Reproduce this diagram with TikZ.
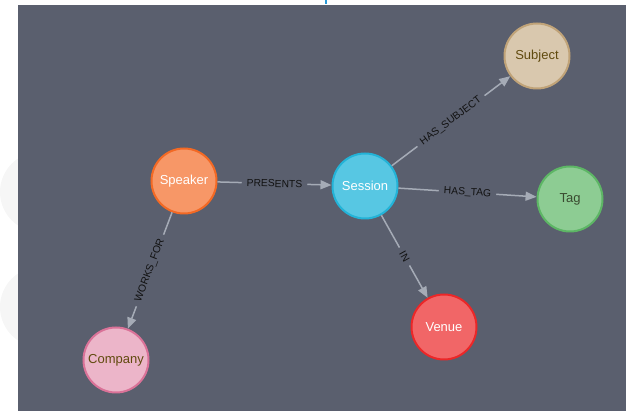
\documentclass[tikz,border=0pt]{standalone}
\usepackage{fontspec}
\setmainfont{Liberation Sans}
\usetikzlibrary{arrows.meta}

\definecolor{canvas}{RGB}{90,95,110}
\definecolor{edgegray}{HTML}{A5ABB6}
\definecolor{faint}{HTML}{F6F6F6}
\definecolor{speakerfill}{HTML}{F79767}
\definecolor{speakerline}{HTML}{F36924}
\definecolor{sessionfill}{HTML}{57C7E3}
\definecolor{sessionline}{HTML}{23B3D7}
\definecolor{subjectfill}{HTML}{D9C8AE}
\definecolor{subjectline}{HTML}{C0A378}
\definecolor{tagfill}{HTML}{8DCC93}
\definecolor{tagline}{HTML}{5DB665}
\definecolor{venuefill}{HTML}{F16667}
\definecolor{venueline}{HTML}{EB2728}
\definecolor{companyfill}{HTML}{ECB5C9}
\definecolor{companyline}{HTML}{DA7298}
\definecolor{browntext}{HTML}{604A0E}
\definecolor{greentext}{HTML}{3A4A30}
\definecolor{tickblue}{HTML}{2A9AD8}
\definecolor{labeltext}{HTML}{111111}

\tikzset{
  entity/.style={circle, line width=2pt, minimum size=65pt, inner sep=0pt,
    font=\fontsize{13}{15}\selectfont},
  rel/.style={draw=edgegray, line width=1.5pt,
    -{Triangle[length=11pt,width=9pt]}},
  rellabel/.style={midway, sloped, fill=canvas, inner xsep=5pt, inner ysep=1pt,
    text=labeltext, font=\fontsize{10.3}{12}\selectfont}
}

\begin{document}
\begin{tikzpicture}[x=1pt,y=-1pt]
  \useasboundingbox (0,0) rectangle (633,411);

  % faint shapes in the white margin
  \fill[faint] (40,192) circle (40);
  \fill[faint] (40,307) circle (40);

  % canvas
  \fill[canvas] (18,5) rectangle (626,411);
  \draw[tickblue, line width=1.5pt] (326,0) -- (326,4);

  % entities
  \node[entity, fill=speakerfill, draw=speakerline, text=white] (speaker) at (184,181) {Speaker};
  \node[entity, fill=sessionfill, draw=sessionline, text=white] (session) at (365,186) {Session};
  \node[entity, fill=subjectfill, draw=subjectline, text=browntext] (subject) at (537,56) {Subject};
  \node[entity, fill=tagfill, draw=tagline, text=greentext] (tag) at (570,199) {Tag};
  \node[entity, fill=venuefill, draw=venueline, text=white] (venue) at (444,327) {Venue};
  \node[entity, fill=companyfill, draw=companyline, text=browntext] (company) at (116,360) {Company};

  % relationships
  \draw[rel] (speaker) -- node[rellabel] {PRESENTS} (session);
  \draw[rel] (session) -- node[rellabel] {HAS\_SUBJECT} (subject);
  \draw[rel] (session) -- node[rellabel] {HAS\_TAG} (tag);
  \draw[rel] (session) -- node[rellabel] {IN} (venue);
  \draw[rel] (speaker) -- node[rellabel] {WORKS\_FOR} (company);
\end{tikzpicture}
\end{document}
